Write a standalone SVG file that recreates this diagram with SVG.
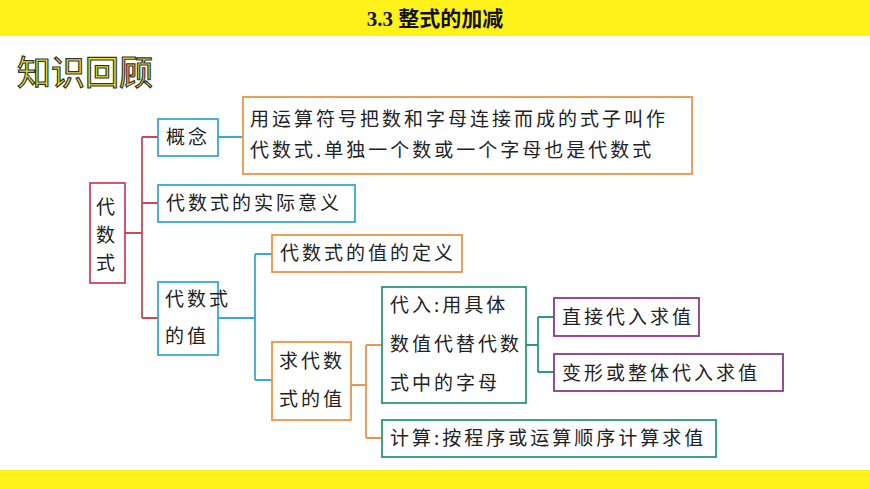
<svg xmlns="http://www.w3.org/2000/svg" width="870" height="489" viewBox="0 0 870 489">
<style>
.t{font-family:"Noto Sans CJK SC",sans-serif;font-size:19px;fill:#222;letter-spacing:3px}
.box{fill:#fff;stroke-width:1.8}
.red{stroke:#c84a5e}.blue{stroke:#3aa8d0}.org{stroke:#e8964a}.grn{stroke:#2a9a7a}.pur{stroke:#8a3a8a}
.ln{fill:none;stroke-width:1.8}
</style>
<rect width="870" height="489" fill="#fff"/>
<rect width="870" height="36" fill="#fff21a"/>
<rect y="470" width="870" height="19" fill="#fff21a"/>
<text x="435" y="26" text-anchor="middle" font-family="Liberation Serif,'Noto Sans CJK SC',serif" font-size="21" font-weight="bold" fill="#111">3.3  整式的加减</text>
<text x="17" y="85" font-family="'Noto Sans CJK SC',sans-serif" font-size="34" fill="#f5ea30" stroke="#333" stroke-width="1.2">知识回顾</text>
<g id="connectors">
<path class="ln red" d="M125 233H142M142 137V318M142 137H158M142 203H158M142 318H158"/>
<path class="ln blue" d="M218 137H243M218 318H255M255 254V380M255 254H272M255 380H272"/>
<path class="ln org" d="M351 385H366M366 345V438M366 345H382M366 438H382"/>
<path class="ln grn" d="M526 345H538M538 317V372M538 317H554M538 372H554"/>
</g>
<g id="root"><rect class="box red" x="90" y="183" width="35" height="100"/>
<text class="t" x="107" y="214" text-anchor="middle">代</text><text class="t" x="107" y="242" text-anchor="middle">数</text><text class="t" x="107" y="270" text-anchor="middle">式</text></g>
<g id="gainian"><rect class="box blue" x="158" y="119" width="60" height="37"/><text class="t" x="166" y="144">概念</text></g>
<g id="def"><rect class="box org" x="243" y="97" width="449" height="77"/><text class="t" x="250" y="126" letter-spacing="4.6">用运算符号把数和字母连接而成的式子叫作</text><text class="t" x="250" y="157" letter-spacing="4.6">代数式.单独一个数或一个字母也是代数式</text></g>
<g id="yiyi"><rect class="box blue" x="158" y="185" width="197" height="37"/><text class="t" x="166" y="210" letter-spacing="5">代数式的实际意义</text></g>
<g id="zhi"><rect class="box blue" x="158" y="282" width="60" height="73"/><text class="t" x="165" y="306">代数式</text><text class="t" x="165" y="343">的值</text></g>
<g id="zhidef"><rect class="box org" x="272" y="235" width="190" height="37"/><text class="t" x="280" y="260" letter-spacing="4.5">代数式的值的定义</text></g>
<g id="qiu"><rect class="box org" x="272" y="342" width="79" height="78"/><text class="t" x="279" y="368" letter-spacing="5">求代数</text><text class="t" x="279" y="406" letter-spacing="5">式的值</text></g>
<g id="dairu"><rect class="box grn" x="382" y="287" width="144" height="116"/><text class="t" x="390" y="312" letter-spacing="4">代入:用具体</text><text class="t" x="390" y="351" letter-spacing="4">数值代替代数</text><text class="t" x="390" y="390" letter-spacing="4">式中的字母</text></g>
<g id="zhijie"><rect class="box pur" x="554" y="298" width="145" height="38"/><text class="t" x="562" y="324" letter-spacing="4">直接代入求值</text></g>
<g id="bianxing"><rect class="box pur" x="554" y="354" width="229" height="37"/><text class="t" x="562" y="380" letter-spacing="4">变形或整体代入求值</text></g>
<g id="jisuan"><rect class="box grn" x="382" y="420" width="334" height="37"/><text class="t" x="390" y="445" letter-spacing="4">计算:按程序或运算顺序计算求值</text></g>
</svg>
